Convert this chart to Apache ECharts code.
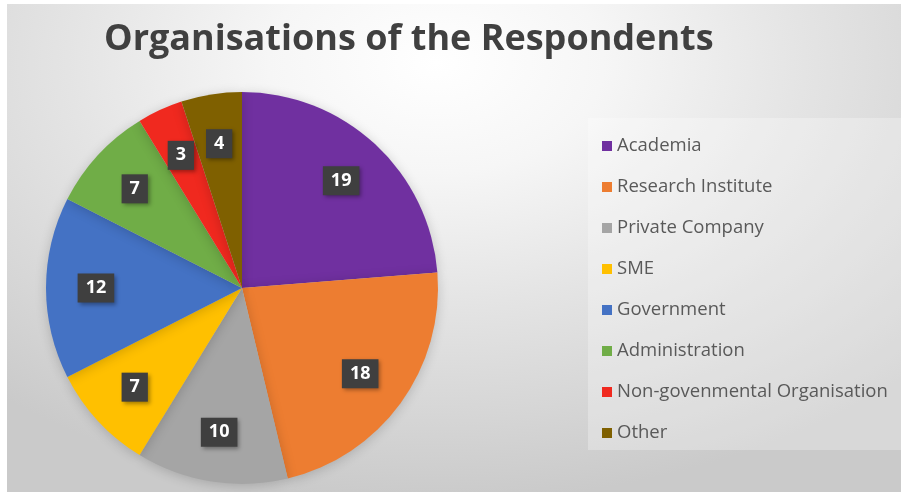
<!DOCTYPE html>
<html>
<head>
<meta charset="utf-8">
<script src="https://cdn.jsdelivr.net/npm/echarts@6/dist/echarts.min.js"></script>
<style>
  html, body { margin: 0; padding: 0; background: #ffffff; }
  #wrap { position: absolute; left: 0; top: 0; width: 901px; height: 492px; background: #ffffff; }
  #chart {
    position: absolute; left: 7px; top: 4px; width: 894px; height: 488px;
    background: radial-gradient(ellipse 75% 90% at 48% 12%, #ffffff 0%, #f6f6f6 25%, #e4e4e4 55%, #d6d6d6 80%, #cacaca 100%);
  }
</style>
</head>
<body>
<div id="wrap"><div id="chart"></div></div>
<script>
// Respondents grouped by organisation type
const categories = ['Academia', 'Research Institute', 'Private Company', 'SME', 'Government', 'Administration', 'Non-govenmental Organisation', 'Other'];
const counts = [19, 18, 10, 7, 12, 7, 3, 4];
const colors = ['#7030A0', '#ED7D31', '#A5A5A5', '#FFC000', '#4472C4', '#70AD47', '#F0291F', '#7F6000'];

const chart = echarts.init(document.getElementById('chart'));

const sliceData = categories.map((name, i) => ({ name, value: counts[i], itemStyle: { color: colors[i] } }));
const labelData = categories.map((name, i) => ({ name, value: counts[i] }));

const pieCenter = [235, 284];
const pieRadius = 196;

chart.setOption({
  animation: false,
  title: {
    text: 'Organisations of the Respondents',
    left: 92,
    top: 13,
    textStyle: { fontFamily: 'Open Sans', fontWeight: 'bold', fontSize: 36, color: '#404040' }
  },
  graphic: [{
    type: 'rect',
    left: 581, top: 114,
    shape: { width: 313, height: 332 },
    style: { fill: 'rgba(255,255,255,0.28)' },
    silent: true,
    z: -1
  }],
  legend: {
    orient: 'vertical',
    left: 590,
    top: 127,
    icon: 'rect',
    itemWidth: 10,
    itemHeight: 10,
    itemGap: 21,
    data: categories,
    textStyle: { fontFamily: 'Open Sans', fontSize: 18.5, color: '#595959', lineHeight: 20 }
  },
  series: [
    {
      type: 'pie',
      center: pieCenter,
      radius: pieRadius,
      startAngle: 90,
      clockwise: true,
      data: sliceData,
      label: { show: false },
      labelLine: { show: false },
      emphasis: { disabled: true },
      itemStyle: { shadowBlur: 12, shadowColor: 'rgba(0,0,0,0.18)', shadowOffsetY: 2 }
    },
    {
      type: 'pie',
      center: pieCenter,
      radius: [pieRadius * 0.46, pieRadius],
      startAngle: 90,
      clockwise: true,
      silent: true,
      data: labelData,
      itemStyle: { color: 'rgba(0,0,0,0)' },
      emphasis: { disabled: true },
      labelLine: { show: false },
      label: {
        show: true,
        position: 'inside',
        formatter: '{c}',
        fontFamily: 'Open Sans',
        fontWeight: 'bold',
        fontSize: 18,
        color: '#ffffff',
        backgroundColor: '#3f3f3f',
        padding: [6, 8, 5, 8],
        shadowBlur: 4,
        shadowColor: 'rgba(0,0,0,0.35)',
        shadowOffsetX: 2,
        shadowOffsetY: 2
      }
    }
  ]
});
</script>
</body>
</html>
